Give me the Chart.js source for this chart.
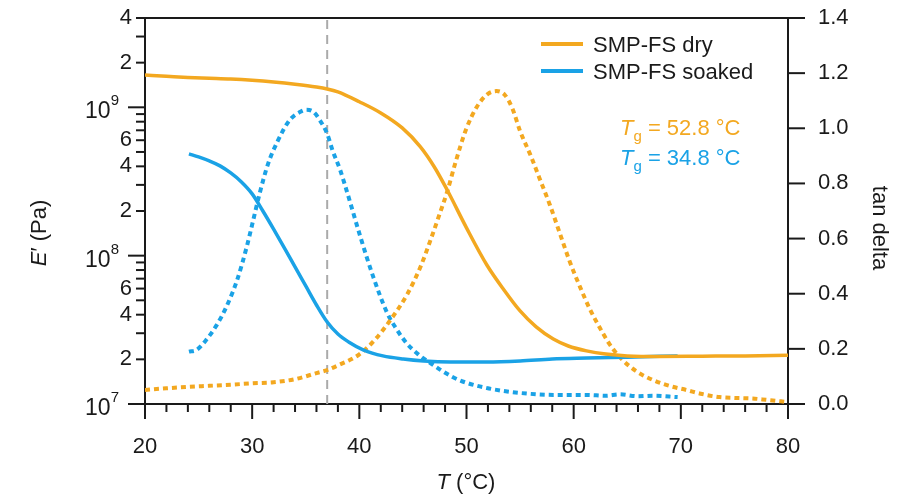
<!DOCTYPE html>
<html>
<head>
<meta charset="utf-8">
<script src="https://cdn.jsdelivr.net/npm/chart.js@4/dist/chart.umd.min.js"></script>
<style>
  html, body { margin: 0; padding: 0; background: #fff; }
  #wrap { width: 906px; height: 494px; }
</style>
</head>
<body>
<div id="wrap"><canvas id="chart"></canvas></div>
<script>
// storage modulus E' (Pa), dry sample
const dryT = [20, 22, 24, 26, 28, 30, 32, 34, 36, 37, 38, 40, 42, 44, 45.7, 47, 48.2, 50, 51.9, 53.5, 55, 56.5, 58.1, 59.5, 61.2, 63, 65, 68, 72, 76, 80];
const dryMod = [1.65e9, 1.62e9, 1.59e9, 1.57e9, 1.55e9, 1.52e9, 1.48e9, 1.43e9, 1.37e9, 1.33e9, 1.27e9, 1.09e9, 9.16e8, 7.26e8, 5.41e8, 3.96e8, 2.77e8, 1.54e8, 8.65e7, 5.87e7, 4.24e7, 3.31e7, 2.74e7, 2.46e7, 2.28e7, 2.17e7, 2.11e7, 2.09e7, 2.1e7, 2.11e7, 2.13e7];

// tan delta, dry sample
const dryTanT = [20, 22, 24, 26, 28, 30, 32, 34, 36, 37, 38, 40, 41.5, 43, 44.5, 45.7, 46.6, 47.5, 48.2, 49, 50, 51, 52, 52.8, 53.6, 54.3, 55, 56, 56.8, 57.8, 58.7, 59.6, 60.6, 61.5, 62.4, 63.3, 64.3, 65.8, 67.4, 69, 70.5, 72, 73.6, 75, 76.7, 78, 80];
const dryTan = [0.051, 0.057, 0.062, 0.066, 0.07, 0.075, 0.079, 0.09, 0.112, 0.123, 0.14, 0.18, 0.235, 0.31, 0.40, 0.497, 0.59, 0.69, 0.77, 0.88, 1.0, 1.08, 1.125, 1.135, 1.12, 1.07, 0.99, 0.9, 0.82, 0.72, 0.62, 0.52, 0.424, 0.345, 0.279, 0.22, 0.17, 0.12, 0.087, 0.065, 0.051, 0.036, 0.025, 0.022, 0.02, 0.015, 0.007];

// storage modulus E' (Pa), soaked sample
const soakT = [24.1, 25, 26, 27, 28, 29, 30, 31, 32, 33, 34, 35, 36, 37, 38, 39, 40.4, 42.2, 44.1, 46, 48.5, 51.9, 55, 58, 61.2, 65, 69.7];
const soakMod = [4.85e8, 4.63e8, 4.35e8, 4.03e8, 3.61e8, 3.14e8, 2.61e8, 2.0e8, 1.51e8, 1.13e8, 8.39e7, 6.25e7, 4.65e7, 3.57e7, 2.96e7, 2.62e7, 2.31e7, 2.11e7, 2.01e7, 1.95e7, 1.92e7, 1.92e7, 1.95e7, 2.01e7, 2.04e7, 2.07e7, 2.11e7];

// tan delta, soaked sample
const soakTanT = [24.1, 24.8, 25.7, 26.7, 27.6, 28.6, 29.5, 30.1, 30.7, 31.5, 32.4, 33.5, 34.5, 35, 35.7, 36.3, 37, 37.5, 38.2, 38.8, 40.1, 41.3, 42.6, 43.5, 44.4, 45.5, 46.6, 48.7, 50, 51.9, 53.5, 55, 58.1, 61.2, 63, 64.3, 66, 67.4, 69.7];
const soakTan = [0.19, 0.196, 0.232, 0.287, 0.353, 0.45, 0.571, 0.667, 0.764, 0.873, 0.955, 1.03, 1.06, 1.067, 1.06, 1.03, 0.98, 0.92, 0.85, 0.776, 0.606, 0.461, 0.33, 0.27, 0.221, 0.18, 0.149, 0.098, 0.077, 0.058, 0.047, 0.04, 0.033, 0.033, 0.03, 0.035, 0.028, 0.03, 0.025];

// body temperature marker
const markerT = [37, 37];
const markerMod = [1e7, 4e9];

const seriesNames = ["SMP-FS dry", "SMP-FS soaked"];
const tgLabels = ["52.8 °C", "34.8 °C"];

const xTicks = [20, 22, 24, 26, 28, 30, 32, 34, 36, 38, 40, 42, 44, 46, 48, 50, 52, 54, 56, 58, 60, 62, 64, 66, 68, 70, 72, 74, 76, 78, 80];
const xTickLabels = ["20", "30", "40", "50", "60", "70", "80"];
const modTicks = [1e7, 2e7, 3e7, 4e7, 5e7, 6e7, 7e7, 8e7, 9e7, 1e8, 2e8, 3e8, 4e8, 5e8, 6e8, 7e8, 8e8, 9e8, 1e9, 2e9, 3e9, 4e9];
const modTickLabels = ["2", "4", "6"];
const tanTicks = [0, 0.2, 0.4, 0.6, 0.8, 1.0, 1.2, 1.4];

const ORANGE = "#f3a820";
const BLUE = "#1aa2e6";
const INK = "#1a1a1a";
const FONT = "'Liberation Sans', Arial, sans-serif";

const pts = (xs, ys) => xs.map((x, i) => ({ x, y: ys[i] }));
const mant = v => v / Math.pow(10, Math.floor(Math.log10(v) + 1e-9));
const noPad = s => { s.paddingTop = 0; s.paddingBottom = 0; s.paddingLeft = 0; s.paddingRight = 0; };

const decorations = {
  id: "decorations",
  afterDraw(chart) {
    const { ctx, chartArea: a, scales } = chart;
    ctx.save();
    ctx.strokeStyle = INK;
    ctx.lineWidth = 2;
    ctx.lineCap = "butt";
    const seg = (x1, y1, x2, y2) => { ctx.beginPath(); ctx.moveTo(x1, y1); ctx.lineTo(x2, y2); ctx.stroke(); };

    // top frame
    seg(a.left - 1, a.top, a.right + 1, a.top);

    // tick marks
    scales.x.ticks.forEach(t => {
      const px = scales.x.getPixelForValue(t.value);
      seg(px, a.bottom, px, a.bottom + (t.value % 10 === 0 ? 15 : 8));
    });
    scales.y.ticks.forEach(t => {
      const py = scales.y.getPixelForValue(t.value);
      const m = mant(t.value);
      seg(a.left, py, a.left - (Math.abs(m - 1) < 1e-6 ? 17 : 9), py);
    });
    scales.y1.ticks.forEach(t => {
      const py = scales.y1.getPixelForValue(t.value);
      seg(a.right, py, a.right + 17, py);
    });

    // decade labels 10^n
    ctx.fillStyle = INK;
    ctx.textAlign = "left";
    ctx.textBaseline = "alphabetic";
    [1e7, 1e8, 1e9].forEach(v => {
      const py = scales.y.getPixelForValue(v);
      const exp = String(Math.round(Math.log10(v)));
      ctx.font = "15px " + FONT;
      const ew = ctx.measureText(exp).width;
      ctx.font = "23px " + FONT;
      const bw = ctx.measureText("10").width;
      const xEnd = 119;
      ctx.fillText("10", xEnd - ew - bw, py + 11);
      ctx.font = "15px " + FONT;
      ctx.fillText(exp, xEnd - ew, py - 2);
    });

    // mixed-style text helper
    const runs = (parts, x, y, align) => {
      let w = 0;
      parts.forEach(p => { ctx.font = p.f; w += ctx.measureText(p.t).width; });
      let cx = align === "center" ? x - w / 2 : x;
      parts.forEach(p => {
        ctx.font = p.f;
        ctx.fillText(p.t, cx, y + (p.dy || 0));
        cx += ctx.measureText(p.t).width;
      });
    };

    // axis titles
    ctx.fillStyle = INK;
    runs([{ t: "T", f: "italic 22px " + FONT }, { t: " (°C)", f: "22px " + FONT }], 466, 489, "center");

    ctx.save();
    ctx.translate(46, 233);
    ctx.rotate(-Math.PI / 2);
    runs([{ t: "E", f: "italic 22px " + FONT }, { t: "′", f: "22px " + FONT }, { t: " (Pa)", f: "22px " + FONT }], 0, 0, "center");
    ctx.restore();

    ctx.save();
    ctx.translate(873, 228);
    ctx.rotate(Math.PI / 2);
    runs([{ t: "tan delta", f: "22px " + FONT }], 0, 0, "center");
    ctx.restore();

    // legend
    [ORANGE, BLUE].forEach((c, i) => {
      const ly = 44 + i * 27;
      ctx.strokeStyle = c;
      ctx.lineWidth = 4;
      seg(541, ly, 583, ly);
      ctx.fillStyle = INK;
      ctx.font = "22px " + FONT;
      ctx.fillText(seriesNames[i], 593, ly + 8);
    });

    // Tg annotations
    [ORANGE, BLUE].forEach((c, i) => {
      ctx.fillStyle = c;
      runs([
        { t: "T", f: "italic 22px " + FONT },
        { t: "g", f: "15px " + FONT, dy: 6 },
        { t: " = " + tgLabels[i], f: "22px " + FONT }
      ], 620, 135 + i * 30, "left");
    });

    ctx.restore();
  }
};

new Chart(document.getElementById("chart"), {
  type: "line",
  data: {
    datasets: [
      {
        data: pts(markerT, markerMod), yAxisID: "y",
        borderColor: "#aaaaaa", borderWidth: 2, borderDash: [9, 6], pointRadius: 0, order: 5
      },
      {
        data: pts(dryT, dryMod), yAxisID: "y",
        borderColor: ORANGE, borderWidth: 3.5, pointRadius: 0, cubicInterpolationMode: "monotone"
      },
      {
        data: pts(soakT, soakMod), yAxisID: "y",
        borderColor: BLUE, borderWidth: 3.5, pointRadius: 0, cubicInterpolationMode: "monotone"
      },
      {
        data: pts(dryTanT, dryTan), yAxisID: "y1",
        borderColor: ORANGE, borderWidth: 4, borderDash: [5, 4], pointRadius: 0, cubicInterpolationMode: "monotone"
      },
      {
        data: pts(soakTanT, soakTan), yAxisID: "y1",
        borderColor: BLUE, borderWidth: 4, borderDash: [5, 4], pointRadius: 0, cubicInterpolationMode: "monotone"
      }
    ]
  },
  options: {
    responsive: true,
    maintainAspectRatio: false,
    animation: false,
    layout: { padding: { top: 18, left: 0, right: 0, bottom: 0 } },
    plugins: { legend: { display: false }, tooltip: { enabled: false } },
    scales: {
      x: {
        type: "linear", min: 20, max: 80,
        afterBuildTicks: s => { s.ticks = xTicks.map(v => ({ value: v })); },
        afterFit: s => { s.height = 90; noPad(s); },
        grid: { display: true, drawOnChartArea: false, drawTicks: false },
        border: { color: INK, width: 2 },
        ticks: {
          autoSkip: false, maxRotation: 0, padding: 30, color: INK,
          font: { family: FONT, size: 22 },
          callback: v => xTickLabels.includes(String(v)) ? String(v) : ""
        }
      },
      y: {
        type: "logarithmic", position: "left", min: 1e7, max: 4e9,
        afterBuildTicks: s => { s.ticks = modTicks.map(v => ({ value: v })); },
        afterFit: s => { s.width = 145; noPad(s); },
        grid: { display: true, drawOnChartArea: false, drawTicks: false },
        border: { color: INK, width: 2 },
        ticks: {
          autoSkip: false, padding: 13, color: INK,
          font: { family: FONT, size: 22 },
          callback: v => {
            const m = String(Math.round(mant(v)));
            return modTickLabels.includes(m) ? m : "";
          }
        }
      },
      y1: {
        type: "linear", position: "right", min: 0, max: 1.4,
        afterBuildTicks: s => { s.ticks = tanTicks.map(v => ({ value: v })); },
        afterFit: s => { s.width = 118; noPad(s); },
        grid: { display: true, drawOnChartArea: false, drawTicks: false },
        border: { color: INK, width: 2 },
        ticks: {
          autoSkip: false, padding: 30, color: INK,
          font: { family: FONT, size: 22 },
          callback: v => v.toFixed(1)
        }
      }
    }
  },
  plugins: [decorations]
});
</script>
</body>
</html>
